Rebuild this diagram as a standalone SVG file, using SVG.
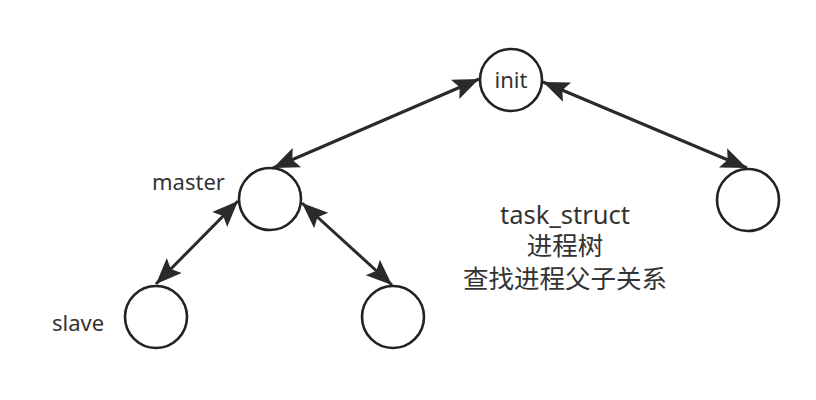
<svg xmlns="http://www.w3.org/2000/svg" width="816" height="400" viewBox="0 0 816 400">
<style>
.node{fill:#fff;stroke:#222;stroke-width:2.6}
.edge{stroke:#2a2a2a;stroke-width:3;fill:none;marker-start:url(#ah);marker-end:url(#ah)}
.lbl{font-family:"Noto Sans","Liberation Sans","Noto Sans CJK SC",sans-serif;font-size:22px;fill:#333}
.note{font-family:"Noto Sans","Noto Sans CJK SC",sans-serif;font-size:25.5px;fill:#333;text-anchor:middle}
</style>
<defs>
<marker id="ah" markerUnits="userSpaceOnUse" markerWidth="30" markerHeight="24" refX="26" refY="10.5" orient="auto-start-reverse" viewBox="0 0 30 21">
<path d="M0,0 L26,10.5 L0,21 L5,10.5 Z" fill="#2a2a2a"/>
</marker>
</defs>
<rect width="816" height="400" fill="#fff"/>
<g id="connectors">
<line class="edge" x1="273" y1="168" x2="479" y2="79"/>
<line class="edge" x1="543" y1="82" x2="747" y2="168"/>
<line class="edge" x1="238" y1="201" x2="156" y2="284"/>
<line class="edge" x1="302" y1="203" x2="392" y2="285"/>
</g>
<g id="init">
<circle class="node" cx="511" cy="80" r="31"/>
<text class="lbl" x="511" y="88" text-anchor="middle">init</text>
</g>
<g id="master">
<circle class="node" cx="270" cy="199" r="31"/>
<text class="lbl" x="152" y="190">master</text>
</g>
<g id="right">
<circle class="node" cx="748" cy="200" r="31"/>
</g>
<g id="slave">
<circle class="node" cx="156" cy="317" r="31"/>
<text class="lbl" x="52" y="331">slave</text>
</g>
<g id="child">
<circle class="node" cx="393" cy="317" r="31"/>
</g>
<g id="note">
<text class="note" x="565" y="224">task_struct</text>
<text class="note" x="565" y="255">进程树</text>
<text class="note" x="565" y="288">查找进程父子关系</text>
</g>
</svg>
